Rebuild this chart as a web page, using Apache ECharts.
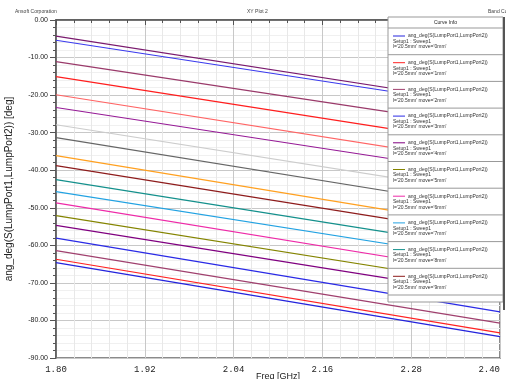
<!DOCTYPE html>
<html>
<head>
<meta charset="utf-8">
<script src="https://cdn.jsdelivr.net/npm/echarts@6/dist/echarts.min.js"></script>
<style>
  html, body { margin: 0; padding: 0; background: #fff; }
  #main { width: 506px; height: 379px; }
</style>
</head>
<body>
<div id="main"></div>
<script>
// sweep points (GHz) - curves are straight, read at both ends
var freqs = [1.80, 2.40];

// move = 0mm .. 18mm
var moveLabels = ['0mm', '1mm', '2mm', '3mm', '4mm', '5mm', '6mm', '7mm', '8mm', '9mm',
  '10mm', '11mm', '12mm', '13mm', '14mm', '15mm', '16mm', '17mm', '18mm'];

// ang_deg(S21) at 1.80 GHz
var phaseAtStart = [-64.6, -63.7, -61.4, -58.1, -54.7, -52.1, -48.7, -45.7, -42.5, -38.8,
  -36.1, -31.3, -27.9, -23.3, -19.9, -15.1, -11.1, -5.4, -4.3];

// ang_deg(S21) at 2.40 GHz
var phaseAtEnd = [-84.3, -83.3, -80.7, -77.7, -73.5, -70.9, -67.9, -64.3, -61.3, -57.7,
  -55.5, -50.4, -46.5, -41.4, -38.5, -33.5, -28.9, -23.5, -22.7];

var lineColors = ['#2424dd', '#ff2222', '#a0406e', '#2a2ae6', '#800080', '#848400',
  '#ee2aa8', '#22a2e2', '#14908c', '#8e1c1c', '#ffa020', '#666666', '#cccccc',
  '#961a96', '#ff6464', '#ff1e1e', '#9a3a6a', '#3a3aee', '#7a1a6e'];

var legendCount = 10; // only the first 10 entries fit in the Curve Info box

var chart = echarts.init(document.getElementById('main'), null, { renderer: 'canvas' });

var series = moveLabels.map(function (m, i) {
  return {
    name: m,
    type: 'line',
    symbol: 'none',
    silent: true,
    animation: false,
    lineStyle: { color: lineColors[i], width: 1.2 },
    data: [[freqs[0], phaseAtStart[i]], [freqs[1], phaseAtEnd[i]]]
  };
});

// Curve Info box
var boxL = 388, boxT = 17, boxW = 115, hdrH = 11, rowH = 26.7;
var txtFont = '5px "Liberation Sans"';
var graphics = [
  { type: 'text', left: 15, top: 9, z: 100,
    style: { text: 'Ansoft Corporation', font: txtFont, fill: '#444' } },
  { type: 'text', left: 247, top: 9, z: 100,
    style: { text: 'XY Plot 2', font: txtFont, fill: '#444' } },
  { type: 'text', left: 488, top: 9, z: 100,
    style: { text: 'Band Coupler', font: txtFont, fill: '#444' } },
  { type: 'rect', z: 100,
    shape: { x: boxL, y: boxT, width: boxW, height: hdrH + rowH * legendCount + 7 },
    style: { fill: '#fff', stroke: '#999', lineWidth: 1 } },
  { type: 'line', z: 101,
    shape: { x1: boxL + boxW + 1, y1: boxT, x2: boxL + boxW + 1, y2: 310 },
    style: { stroke: '#555', lineWidth: 2 } },
  { type: 'text', z: 101, x: boxL + boxW / 2, y: boxT + 6,
    style: { text: 'Curve Info', font: txtFont, fill: '#222',
      align: 'center', verticalAlign: 'middle' } },
  { type: 'line', z: 101,
    shape: { x1: boxL, y1: boxT + hdrH, x2: boxL + boxW, y2: boxT + hdrH },
    style: { stroke: '#999', lineWidth: 1 } }
];

for (var i = 0; i < legendCount; i++) {
  var rowTop = boxT + hdrH + i * rowH;
  graphics.push({ type: 'line', z: 101,
    shape: { x1: boxL + 5, y1: rowTop + 8, x2: boxL + 17, y2: rowTop + 8 },
    style: { stroke: lineColors[i], lineWidth: 1 } });
  graphics.push({ type: 'text', z: 101, x: boxL + 20, y: rowTop + 8,
    style: { text: 'ang_deg(S(LumpPort1,LumpPort2))', font: txtFont,
      fill: '#333', verticalAlign: 'middle' } });
  graphics.push({ type: 'text', z: 101, x: boxL + 5, y: rowTop + 13.5,
    style: { text: 'Setup1 : Sweep1', font: txtFont,
      fill: '#333', verticalAlign: 'middle' } });
  graphics.push({ type: 'text', z: 101, x: boxL + 5, y: rowTop + 19,
    style: { text: "l='20.5mm' move='" + moveLabels[i] + "'", font: txtFont,
      fill: '#333', verticalAlign: 'middle' } });
  graphics.push({ type: 'line', z: 101,
    shape: { x1: boxL, y1: rowTop + rowH, x2: boxL + boxW, y2: rowTop + rowH },
    style: { stroke: '#999', lineWidth: 1 } });
}

var option = {
  animation: false,
  backgroundColor: '#fff',
  grid: {
    left: 56, right: 6, top: 20, bottom: 21,
    outerBoundsMode: 'none',
    show: true, borderColor: '#666', borderWidth: 1.5
  },
  xAxis: {
    type: 'value',
    min: 1.8, max: 2.4, interval: 0.12,
    name: 'Freq [GHz]', nameLocation: 'middle', nameGap: 14,
    nameMoveOverlap: false,
    nameTextStyle: { fontFamily: 'Liberation Sans', fontSize: 9, color: '#222' },
    axisLine: { lineStyle: { color: '#555', width: 1.5 } },
    axisTick: { length: 5, lineStyle: { color: '#555' } },
    minorTick: { show: true, splitNumber: 5, length: 3, lineStyle: { color: '#555' } },
    splitLine: { lineStyle: { color: '#c8c8c8', width: 1 } },
    minorSplitLine: { show: true, lineStyle: { color: '#e8e8e8', width: 1 } },
    axisLabel: {
      margin: 7, color: '#222', fontFamily: 'Liberation Mono', fontSize: 9,
      alignMaxLabel: 'right',
      formatter: function (v) { return v.toFixed(2); }
    }
  },
  yAxis: {
    type: 'value',
    min: -90, max: 0, interval: 10,
    name: 'ang_deg(S(LumpPort1,LumpPort2)) [deg]',
    nameLocation: 'middle', nameRotate: 90, nameGap: 42,
    nameMoveOverlap: false,
    nameTextStyle: { fontFamily: 'Liberation Sans', fontSize: 10, color: '#222' },
    axisLine: { show: true, lineStyle: { color: '#555', width: 1.5 } },
    axisTick: { show: true, length: 6, lineStyle: { color: '#555' } },
    minorTick: { show: true, splitNumber: 5, length: 3, lineStyle: { color: '#555' } },
    splitLine: { lineStyle: { color: '#c8c8c8', width: 1 } },
    minorSplitLine: { show: true, lineStyle: { color: '#f0f0f0', width: 1 } },
    axisLabel: {
      margin: 8, color: '#222', fontFamily: 'Liberation Sans', fontSize: 7,
      showMinLabel: true, showMaxLabel: true,
      formatter: function (v) { return v.toFixed(2); }
    }
  },
  graphic: graphics,
  series: series
};

chart.setOption(option);
</script>
</body>
</html>
